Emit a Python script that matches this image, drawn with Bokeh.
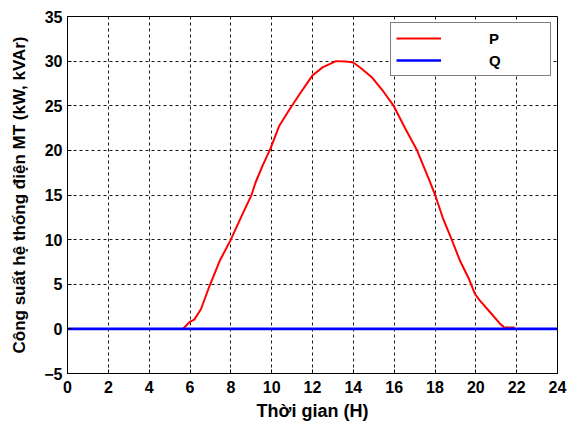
from bokeh.plotting import figure
from bokeh.models import Range1d, FixedTicker, Legend, LegendItem
from bokeh.embed import file_html
from bokeh.resources import INLINE

# Data
p_hours = [5.65, 5.97, 6.21, 6.54, 6.96, 7.45, 8.0, 8.52, 9.02, 9.21, 9.54,
           9.95, 10.36, 10.85, 11.34, 12.0, 12.49, 13.15, 13.64, 14.0, 14.41,
           14.9, 15.47, 15.96, 16.53, 17.1, 17.68, 18.0, 18.41, 18.82, 19.23,
           19.63, 19.96, 20.2, 20.7, 21.19, 21.4, 21.9]
p_values = [0.0, 0.75, 1.04, 2.23, 4.83, 7.6, 10.0, 12.6, 15.05, 16.4, 18.2,
            20.26, 22.7, 24.5, 26.2, 28.4, 29.3, 30.0, 29.95, 29.85, 29.15,
            28.2, 26.6, 25.05, 22.5, 20.1, 16.9, 15.05, 12.26, 10.0, 7.6,
            5.76, 3.9, 3.16, 1.86, 0.56, 0.15, 0.15]
q_hours = [0, 24]
q_values = [0, 0]
x_ticks = [0, 2, 4, 6, 8, 10, 12, 14, 16, 18, 20, 22, 24]
y_ticks = [-5, 0, 5, 10, 15, 20, 25, 30, 35]

FONT = "Liberation Sans"

p = figure(width=570, height=423, output_backend="svg", toolbar_location=None,
           x_range=Range1d(0, 24), y_range=Range1d(-5, 35),
           min_border_left=67, min_border_right=13, min_border_top=16,
           min_border_bottom=48)
p.background_fill_color = "white"
p.border_fill_color = "white"
p.outline_line_color = "black"
p.outline_line_width = 1

p.xaxis.ticker = FixedTicker(ticks=x_ticks)
p.yaxis.ticker = FixedTicker(ticks=y_ticks)

for ax in (p.xaxis, p.yaxis):
    ax.axis_line_color = "black"
    ax.major_tick_in = 4
    ax.major_tick_out = 0
    ax.minor_tick_line_color = None
    ax.major_tick_line_color = "black"
    ax.major_label_text_font = FONT
    ax.major_label_text_font_style = "bold"
    ax.major_label_text_font_size = "16px"
    ax.major_label_text_color = "black"
    ax.axis_label_text_font = FONT
    ax.axis_label_text_font_style = "bold"
    ax.axis_label_text_color = "black"

p.xaxis.axis_label = "Thời gian (H)"
p.xaxis.axis_label_text_font_size = "18px"
p.xaxis.major_label_standoff = 7
p.xaxis.axis_label_standoff = 5
p.yaxis.axis_label = "Công suất hệ thống điện MT (kW, kVAr)"
p.yaxis.axis_label_text_font_size = "17px"
p.yaxis.major_label_standoff = 5
p.yaxis.axis_label_standoff = 12

for g in (p.xgrid, p.ygrid):
    g.grid_line_color = "black"
    g.grid_line_dash = "3 3"
    g.grid_line_width = 1
    g.grid_line_alpha = 0.9

rp = p.line(p_hours, p_values, line_color="#ff0000", line_width=2)
rq = p.line(q_hours, q_values, line_color="#0000ff", line_width=2.7)

legend = Legend(items=[LegendItem(label="P", renderers=[rp]),
                       LegendItem(label="Q", renderers=[rq])],
                location="top_right", margin=6, padding=5, spacing=2,
                glyph_width=45, glyph_height=20, label_standoff=48,
                label_width=56, label_height=20,
                label_text_font=FONT, label_text_font_style="bold",
                label_text_font_size="15px", label_text_color="black",
                border_line_color="black", border_line_width=1,
                background_fill_color="white", background_fill_alpha=1)
p.add_layout(legend)

open("out.html", "w").write(file_html(p, INLINE))
